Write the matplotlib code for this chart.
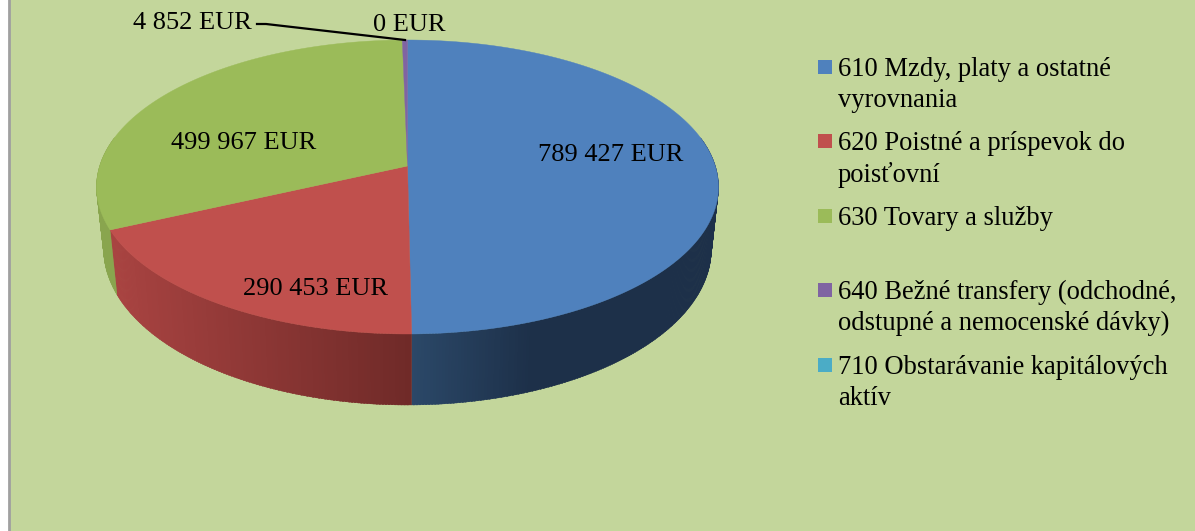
import numpy as np
import matplotlib
matplotlib.use("Agg")
import matplotlib.pyplot as plt
from matplotlib.colors import to_rgb
from matplotlib.patches import Rectangle

# ---- data ----
values = [789427, 290453, 499967, 4852, 0]
legend_labels = [
    "610 Mzdy, platy a ostatné\nvyrovnania",
    "620 Poistné a príspevok do\npoisťovní",
    "630 Tovary a služby",
    "640 Bežné transfery (odchodné,\nodstupné a nemocenské dávky)",
    "710 Obstarávanie kapitálových\naktív",
]
colors = ["#4f81bd", "#c0504d", "#9bbb59", "#8064a2", "#4bacc6"]

# ---- style / layout ----
BG = "#c3d69b"
W, H = 1195, 531
plt.rcParams["font.family"] = ["Liberation Serif", "DejaVu Serif"]
FS = 19

fig = plt.figure(figsize=(W / 100, H / 100), dpi=100, facecolor="white")
ax = fig.add_axes([0, 0, 1, 1])
ax.set_xlim(0, W)
ax.set_ylim(H, 0)
ax.axis("off")
ax.add_patch(Rectangle((10, -5), W, H + 10, fc=BG, ec="none", zorder=0))
ax.plot([9, 9], [0, H], color="#a0a0a0", lw=2, zorder=1)

APEX = (407.5, 166.0)
PERSP = 1 / 7
A, B = 307.8, 144.0


def top_xy(theta):
    """Perspective projection of the unit-circle rim; theta clockwise from north."""
    sx, up = np.sin(theta), np.cos(theta)
    d = 1 + PERSP * up
    Y = B * up / d
    X = A * sx / d
    return APEX[0] + X, APEX[1] - Y


def base_xy(theta):
    x, y = top_xy(theta)
    return APEX[0] + 0.977 * (x - APEX[0]), y + 62 + 0.061 * (y - 187)


fractions = np.array(values, dtype=float) / sum(values)
edges = 2 * np.pi * np.concatenate([[0], np.cumsum(fractions)])


def lerp(c1, c2, t):
    c1, c2 = np.array(to_rgb(c1)), np.array(to_rgb(c2))
    return tuple(c1 + (c2 - c1) * np.clip(t, 0, 1))


def wall_color(i, x):
    if i == 0:
        return lerp("#2b4868", "#1d3049", (x - 412) / 120)
    if i == 1:
        return lerp("#a84341", "#6f2a28", (x - 115) / 297)
    if i == 2:
        return "#89a54e"
    return lerp(colors[i], "#000000", 0.3)


# side walls
for i in range(len(values)):
    if fractions[i] == 0:
        continue
    th = np.linspace(edges[i], edges[i + 1], max(3, int(fractions[i] * 720)))
    step = th[1] - th[0]
    for a, b in zip(th[:-1], th[1:]):
        if np.cos((a + b) / 2) > 0.2:
            continue
        b2 = min(b + step * 0.5, edges[i + 1])
        x1, y1 = top_xy(a)
        x2, y2 = top_xy(b2)
        x3, y3 = base_xy(b2)
        x4, y4 = base_xy(a)
        c = wall_color(i, (x1 + x2) / 2)
        ax.fill([x1, x2, x3, x4], [y1, y2, y3, y4], color=c, lw=0.3, zorder=2)

# top faces
for i in range(len(values)):
    if fractions[i] == 0:
        continue
    th = np.linspace(edges[i], edges[i + 1], max(3, int(fractions[i] * 720)))
    x, y = top_xy(th)
    ax.fill(np.r_[APEX[0], x], np.r_[APEX[1], y], color=colors[i], lw=0.3, zorder=3)


def fmt(v):
    return f"{v:,}".replace(",", " ") + " EUR"


label_pos = [(610.5, 155), (315.5, 289), (244, 143), (192.5, 23), (409, 25)]
for v, (lx, ly) in zip(values, label_pos):
    ax.text(lx, ly, fmt(v), ha="center", va="center", fontsize=FS, color="black", zorder=5)

# leader line of the small slice
ax.plot([257, 266, 405], [24, 24, 40], color="black", lw=1.6, zorder=5)

# legend
legend_y = [60, 134, 209, 283, 358]
for lab, c, sy in zip(legend_labels, colors, legend_y):
    ax.add_patch(Rectangle((818, sy), 14, 14, fc=c, ec="none", zorder=5))
    ax.text(838, sy - 3, lab, ha="left", va="top", fontsize=19.1, linespacing=1.32, color="black", zorder=5)

fig.savefig("out.png", dpi=100, facecolor="white")
